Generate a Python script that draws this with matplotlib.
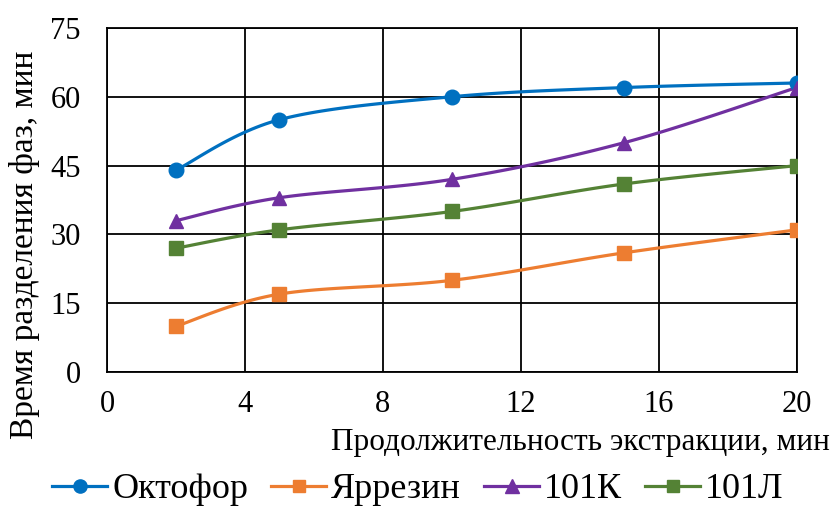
import matplotlib

matplotlib.use("Agg")
import matplotlib.pyplot as plt
import numpy as np

plt.rcParams.update({"font.family": ["Liberation Serif", "DejaVu Serif"]})

x_min = [2, 5, 10, 15, 20]
octofor = [44, 55, 60, 62, 63]
yarrezin = [10, 17, 20, 26, 31]
k101 = [33, 38, 42, 50, 62]
l101 = [27, 31, 35, 41, 45]

series = [
    ("Октофор", octofor, "#0070C0", "o", 10.5),
    ("Яррезин", yarrezin, "#ED7D31", "s", 9.5),
    ("101К", k101, "#7030A0", "^", 10.5),
    ("101Л", l101, "#548235", "s", 9.5),
]


def smooth(xs, ys, n=30):
    # Catmull-Rom style bezier, like spreadsheet smoothed lines
    xs = np.asarray(xs, float)
    ys = np.asarray(ys, float)
    pts = np.column_stack([xs, ys])
    out = []
    for i in range(len(pts) - 1):
        p0 = pts[i - 1] if i > 0 else pts[i]
        p1, p2 = pts[i], pts[i + 1]
        p3 = pts[i + 2] if i + 2 < len(pts) else pts[i + 1]
        c1 = p1 + (p2 - p0) / 6
        c2 = p2 - (p3 - p1) / 6
        t = np.linspace(0, 1, n)[:, None]
        seg = ((1 - t) ** 3) * p1 + 3 * ((1 - t) ** 2) * t * c1 + 3 * (1 - t) * t ** 2 * c2 + t ** 3 * p2
        out.append(seg if i == 0 else seg[1:])
    res = np.vstack(out)
    return res[:, 0], res[:, 1]


fig = plt.figure(figsize=(8.36, 5.07), dpi=100)
ax = fig.add_axes([0.128, 0.266, 0.825, 0.679])

for name, ys, color, marker, ms in series:
    sx, sy = smooth(x_min, ys)
    ax.plot(sx, sy, color=color, lw=2.3, zorder=3)
    ax.plot(x_min, ys, ls="none", marker=marker, ms=ms, color=color, zorder=4)
    ax.plot([], [], color=color, lw=2.3, marker=marker, ms=ms - 1, label=name)

ax.set_xlim(0, 20)
ax.set_ylim(0, 75)
ax.set_xticks(range(0, 21, 4))
ax.set_yticks(range(0, 76, 15))
ax.grid(True, color="black", lw=1.3)
ax.set_axisbelow(True)
for sp in ax.spines.values():
    sp.set_linewidth(1.3)
ax.tick_params(labelsize=22, length=0)
ax.tick_params(axis="x", pad=13)
ax.tick_params(axis="y", pad=19)

fig.text(25 / 836, 0.517, "Время разделения фаз, мин", fontsize=24,
         rotation=90, ha="center", va="center")
fig.text(0.993, 0.128, "Продолжительность экстракции, мин",
         fontsize=22.5, ha="right", va="center")

fig.legend(loc="center", bbox_to_anchor=(0.5, 0.034), ncol=4, fontsize=26,
           frameon=False, handlelength=1.5, handletextpad=0.15, columnspacing=0.65,
           borderpad=0, borderaxespad=0)

fig.savefig("out.png", dpi=100)
